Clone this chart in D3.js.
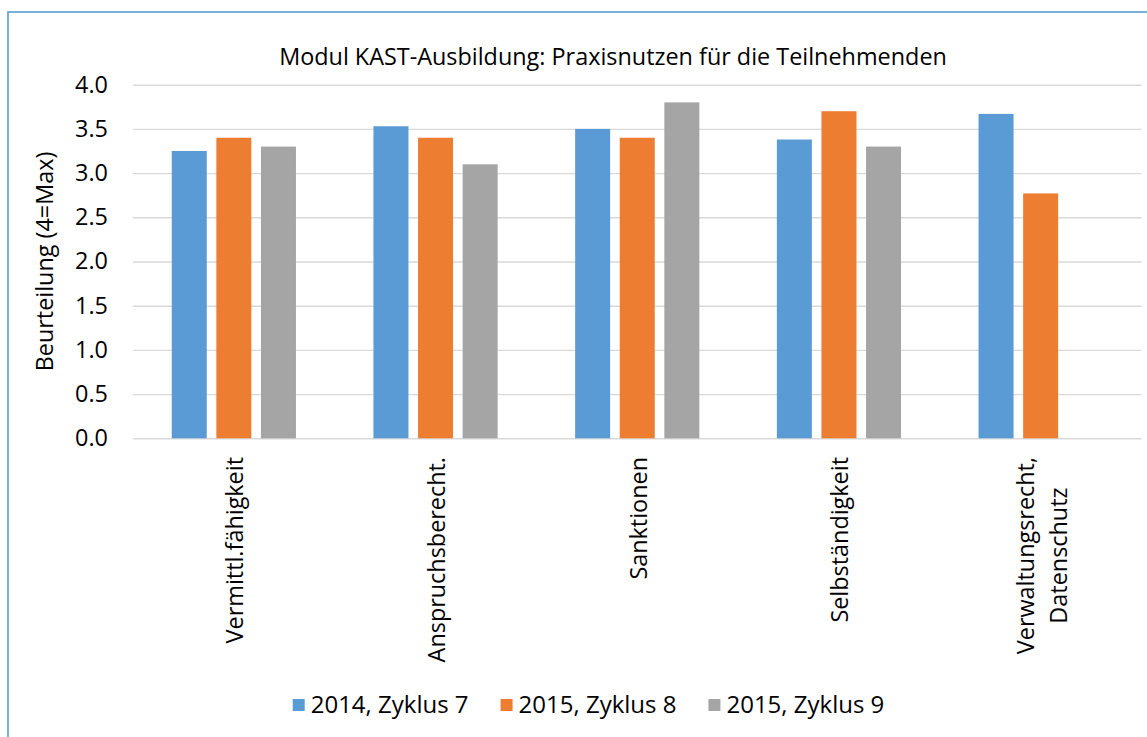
<!DOCTYPE html>
<html><head><meta charset="utf-8">
<script src="https://cdn.jsdelivr.net/npm/d3@7"></script>
<style>html,body{margin:0;padding:0;background:#fff;} svg{display:block;font-family:"Open Sans",sans-serif;}</style>
</head><body><svg id="c" width="1147" height="737"></svg>
<script>
const chartTitle = "Modul KAST-Ausbildung: Praxisnutzen für die Teilnehmenden";
const yAxisTitle = "Beurteilung (4=Max)";
const categories = ["Vermittl.fähigkeit", "Anspruchsberecht.", "Sanktionen", "Selbständigkeit", "Verwaltungsrecht, Datenschutz"];
const seriesNames = ["2014, Zyklus 7", "2015, Zyklus 8", "2015, Zyklus 9"];
const zyklus7 = [3.25, 3.53, 3.50, 3.38, 3.67];
const zyklus8 = [3.40, 3.40, 3.40, 3.70, 2.77];
const zyklus9 = [3.30, 3.10, 3.80, 3.30, null];
const yTicks = [0, 0.5, 1, 1.5, 2, 2.5, 3, 3.5, 4];
const colors = ["#5B9BD5", "#ED7D31", "#A5A5A5"];

const seriesValues = [zyklus7, zyklus8, zyklus9];
const svg = d3.select("#c");
const FS = 23.4;

// outer border
svg.append("rect").attr("x", 8).attr("y", 12).attr("width", 1160).attr("height", 760)
  .attr("fill", "#fff").attr("stroke", "#5B9BD5").attr("stroke-width", 1.6);

const y = d3.scaleLinear().domain([0, 4]).range([438.3, 84.7]);
const x = d3.scaleBand().domain(categories).range([133, 1141.5]).padding(0);
const half = 62.1;
const xs = d3.scaleBand().domain(seriesNames).range([-half, half]).paddingInner(0.215).paddingOuter(0);

// gridlines via axis
const gAxis = svg.append("g").attr("transform", "translate(133,0)")
  .call(d3.axisLeft(y).tickValues(yTicks).tickSize(-(1141.5 - 133)).tickFormat(""));
gAxis.select(".domain").remove();
gAxis.selectAll(".tick line").attr("stroke", "#D9D9D9").attr("stroke-width", 1.4);

// tick labels
svg.append("g").selectAll("text").data(yTicks).join("text")
  .attr("x", 108).attr("y", d => y(d) + 7.8)
  .attr("text-anchor", "end").attr("font-size", FS).attr("fill", "#000")
  .text(d => d3.format(".1f")(d));

// bars
const rows = [];
categories.forEach((c, i) => seriesNames.forEach((s, j) => {
  const v = seriesValues[j][i];
  if (v != null) rows.push({c, s, v, j});
}));
svg.append("g").selectAll("rect").data(rows).join("rect")
  .attr("x", d => x(d.c) + x.bandwidth() / 2 + xs(d.s))
  .attr("width", xs.bandwidth())
  .attr("y", d => y(d.v))
  .attr("height", d => y(0) - y(d.v))
  .attr("fill", d => colors[d.j]);

// category labels (rotated, wrapped)
const catG = svg.append("g");
categories.forEach(c => {
  const words = c.split(" ");
  const lines = [];
  let cur = "";
  const tmp = svg.append("text").attr("font-size", FS);
  words.forEach(w => {
    const test = cur ? cur + " " + w : w;
    tmp.text(test);
    if (cur && tmp.node().getComputedTextLength() > 215) { lines.push(cur); cur = w; }
    else cur = test;
  });
  lines.push(cur);
  const widths = lines.map(l => { tmp.text(l); return tmp.node().getComputedTextLength(); });
  tmp.remove();
  const maxW = d3.max(widths);
  const cx = x(c) + x.bandwidth() / 2;
  const n = lines.length;
  lines.forEach((l, i) => {
    const bx = cx + 9.5 + (i - (n - 1) / 2) * 32.7;
    const cy = 457 + maxW / 2;
    catG.append("text")
      .attr("transform", `translate(${bx},${cy}) rotate(-90)`)
      .attr("text-anchor", "middle").attr("font-size", FS).attr("fill", "#000")
      .text(l);
  });
});

// y axis title
svg.append("text").attr("transform", `translate(53,${(y(0) + y(4)) / 2}) rotate(-90)`)
  .attr("text-anchor", "middle").attr("font-size", FS).attr("fill", "#000").text(yAxisTitle);

// chart title
svg.append("text").attr("x", 613).attr("y", 65).attr("text-anchor", "middle")
  .attr("font-size", FS).attr("fill", "#000").text(chartTitle);

// legend
const leg = svg.append("g");
const items = seriesNames.map((s, i) => {
  const g = leg.append("g");
  g.append("rect").attr("x", 0).attr("y", 699).attr("width", 12).attr("height", 12).attr("fill", colors[i]);
  const t = g.append("text").attr("x", 18).attr("y", 713).attr("font-size", 24).attr("fill", "#000").text(s);
  return {g, w: 18 + t.node().getComputedTextLength()};
});
const gap = 32;
const total = d3.sum(items, d => d.w) + gap * (items.length - 1);
let lx = 588.5 - total / 2;
items.forEach(it => { it.g.attr("transform", `translate(${lx},0)`); lx += it.w + gap; });
</script>
</body></html>
